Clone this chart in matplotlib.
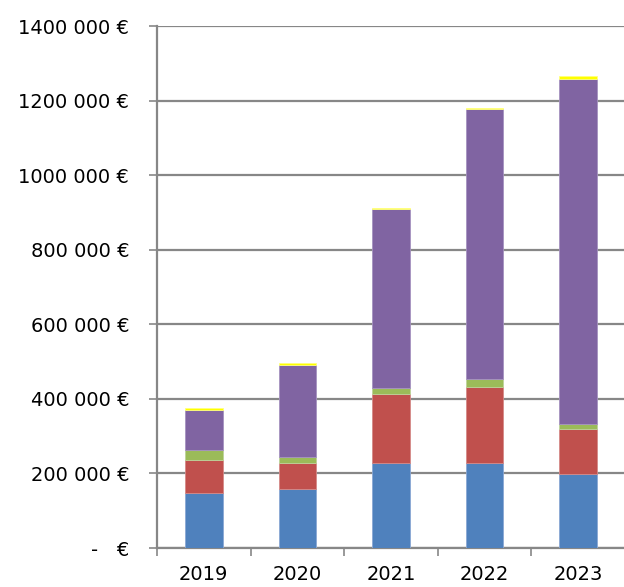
import matplotlib
matplotlib.use("Agg")
import matplotlib.pyplot as plt
from matplotlib.ticker import FuncFormatter, FixedLocator
import numpy as np

years = ["2019", "2020", "2021", "2022", "2023"]
blue = [147000, 158000, 229000, 228000, 198000]
red = [90000, 69000, 185000, 204000, 122000]
green = [27000, 17000, 15000, 20000, 13000]
purple = [107000, 247000, 480000, 726000, 925000]
yellow = [4000, 5000, 3000, 3000, 9000]

series = [blue, red, green, purple, yellow]
colors = ["#4F81BD", "#C0504D", "#9BBB59", "#8064A2", "#FFFF00"]
edges = ["#8AA8D4", "#D58A88", "#BDD39A", "#A592C0", "#FFFF80"]

fig = plt.figure(figsize=(6.24, 5.87), dpi=100)
ax = fig.add_axes([157/624, 1-548/587, (625-157)/624, (548-26)/587])

x = np.arange(len(years))
bottom = np.zeros(len(years))
for vals, c, e in zip(series, colors, edges):
    ax.bar(x, vals, width=0.4, bottom=bottom, color=c, edgecolor=e, linewidth=0.6, zorder=3)
    bottom += np.array(vals)

ax.set_xlim(-0.5, len(years) - 0.5)
ax.set_ylim(0, 1400000)
ax.set_yticks(np.arange(0, 1400001, 200000))

def fmt(v, pos):
    if v == 0:
        return "-   €"
    s = f"{int(v):,}".replace(",", " ")
    parts = s.split(" ")
    if len(parts) == 3:
        s = parts[0] + parts[1] + " " + parts[2]
    return s + " €"

ax.yaxis.set_major_formatter(FuncFormatter(fmt))
ax.grid(axis="y", color="#878787", linewidth=1.6, zorder=0)
ax.set_axisbelow(True)

ax.set_xticks(x)
ax.set_xticklabels(years)
ax.xaxis.set_minor_locator(FixedLocator(np.arange(-0.5, len(years), 1.0)))
ax.tick_params(axis="x", which="major", length=0, pad=12, labelsize=14, colors="black")
ax.tick_params(axis="x", which="minor", length=6, width=1.2, color="#878787", direction="out")
ax.tick_params(axis="y", length=6, width=1.2, color="#878787", pad=14, labelsize=14, labelcolor="black")

for s in ["top", "right"]:
    ax.spines[s].set_visible(False)
for s in ["left", "bottom"]:
    ax.spines[s].set_color("#878787")
    ax.spines[s].set_linewidth(1.6)

fig.savefig("out.png", dpi=100)
